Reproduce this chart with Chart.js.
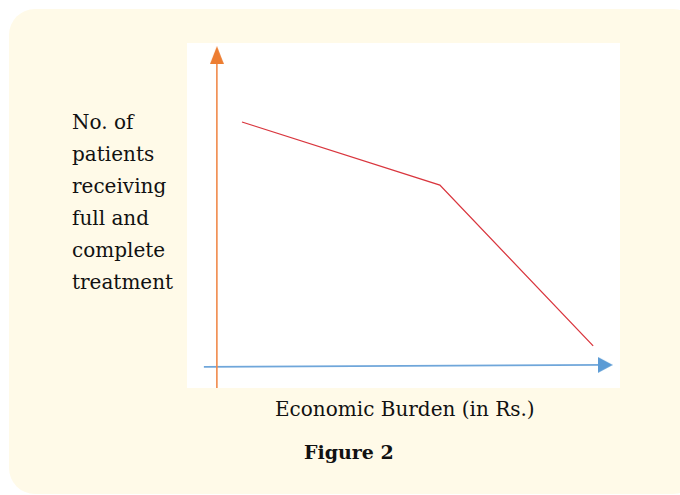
<!DOCTYPE html>
<html>
<head>
<meta charset="utf-8">
<script src="https://cdn.jsdelivr.net/npm/chart.js@4/dist/chart.umd.min.js"></script>
<style>
  html,body{margin:0;padding:0;background:#fff;width:680px;height:495px;overflow:hidden}
  .card{position:absolute;left:9px;top:9px;width:690px;height:485px;background:#fffae8;border-radius:26px}
  .plot{position:absolute;left:187px;top:43px;width:433px;height:345px;background:#fff}
  .txt{position:absolute;font-family:"DejaVu Serif",serif;font-size:20px;color:#111;white-space:nowrap}
  #ylab{left:72px;top:106px;line-height:32px}
  #xlab{left:275px;top:397px;line-height:24px}
  #fig{left:304px;top:440px;line-height:24px;font-weight:bold;font-size:19px}
</style>
</head>
<body>
<div class="card"></div>
<div class="plot"><canvas id="c"></canvas></div>
<div class="txt" id="ylab"></div>
<div class="txt" id="xlab"></div>
<div class="txt" id="fig"></div>
<script>
// chart text
const yLabelLines = ['No. of', 'patients', 'receiving', 'full and', 'complete', 'treatment']
const xLabel = 'Economic Burden (in Rs.)'
const figTitle = 'Figure 2'

// curve (0-100 units across the white box)
const burden = [12.7, 58.4, 93.8]
const patients = [77.1, 58.8, 12.2]

// hand drawn axis arrows
const yArrowX = [6.9, 6.9]
const yArrowY = [0, 96.5]
const xArrowX = [3.9, 96.6]
const xArrowY = [6.1, 6.7]

document.getElementById('ylab').innerHTML = yLabelLines.join('<br>')
document.getElementById('xlab').textContent = xLabel
document.getElementById('fig').textContent = figTitle

function arrowHead(w, h, color, dir){
  const c = document.createElement('canvas')
  c.width = w; c.height = h
  const g = c.getContext('2d')
  g.fillStyle = color
  g.beginPath()
  if(dir==='up'){ g.moveTo(w/2,0); g.lineTo(w,h); g.lineTo(0,h) }
  else { g.moveTo(w,h/2); g.lineTo(0,0); g.lineTo(0,h) }
  g.closePath(); g.fill()
  return c
}
const upHead = arrowHead(14, 18, '#ed7d31', 'up')
const rightHead = arrowHead(15, 16, '#5b9bd5', 'right')

const pts = (xs, ys) => xs.map((x,i)=>({x, y:ys[i]}))

new Chart(document.getElementById('c'), {
  type:'line',
  data:{ datasets:[
    { data: pts(burden, patients), borderColor:'#d9363e', borderWidth:1.3, pointRadius:0, tension:0 },
    { data: pts(yArrowX, yArrowY), borderColor:'#f08a4b', borderWidth:1.6, pointRadius:[0,9], pointStyle:upHead, clip:false },
    { data: pts(xArrowX, xArrowY), borderColor:'#6fa6da', borderWidth:1.8, pointRadius:[0,9], pointStyle:rightHead, clip:false }
  ]},
  options:{
    responsive:true, maintainAspectRatio:false, animation:false, events:[],
    layout:{padding:0, autoPadding:false},
    plugins:{legend:{display:false}, tooltip:{enabled:false}},
    scales:{
      x:{type:'linear', min:0, max:100, display:false},
      y:{type:'linear', min:0, max:100, display:false}
    }
  }
})
</script>
</body>
</html>
